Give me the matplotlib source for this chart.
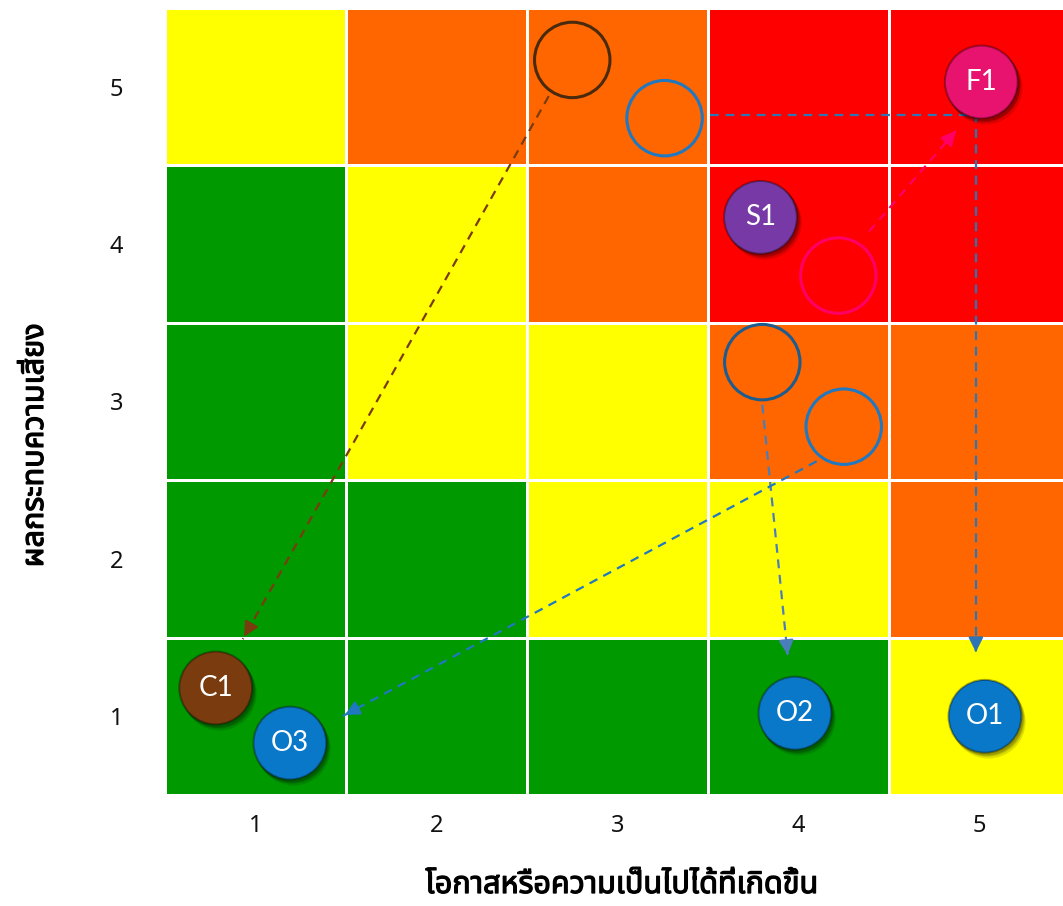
import numpy as np
import matplotlib
matplotlib.use('Agg')
import matplotlib.pyplot as plt
import matplotlib.patheffects as pe
from matplotlib import font_manager as fm
from matplotlib.ft2font import FT2Font
from matplotlib.colors import ListedColormap

# risk matrix: rows = impact 1..5 (bottom to top), cols = likelihood 1..5
levels = np.array([
    [0, 0, 0, 0, 1],
    [0, 0, 1, 1, 2],
    [0, 1, 1, 2, 2],
    [0, 1, 2, 3, 3],
    [1, 2, 2, 3, 3],
])
level_colors = ['#009900', '#FFFF00', '#FF6600', '#FF0000']
tick_labels = ['1', '2', '3', '4', '5']

# filled markers (current risk position)
ball_names = ['F1', 'S1', 'C1', 'O3', 'O2', 'O1']
ball_x = [5.01, 3.79, 0.78, 1.19, 3.98, 5.03]
ball_y = [5.03, 4.17, 1.18, 0.83, 1.02, 1.00]
ball_colors = ['#E8126F', '#7639A6', '#7A3C0E', '#0A78C8', '#0A78C8', '#0A78C8']

# empty rings (earlier position)
ring_x = [2.75, 3.26, 4.22, 3.80, 4.25]
ring_y = [5.17, 4.80, 3.80, 3.25, 2.84]
ring_colors = ['#4A2A0C', '#1F78C0', '#FF0066', '#1D5C8E', '#1F78C0']

# movement arrows: start, end
arrow_start = [(2.62, 4.94), (4.39, 4.08), (3.80, 2.98), (4.10, 2.62)]
arrow_end = [(0.93, 1.49), (4.87, 4.72), (3.94, 1.39), (1.48, 1.00)]
arrow_colors = ['#7A3C0E', '#FF0066', '#4A7EBB', '#1F78C0']
# elbow arrow
elbow_pts = [(3.51, 4.82), (4.98, 4.82), (4.98, 1.39)]
elbow_color = '#2E75B6'

xlabel = 'โอกาสหรือความเป็นไปได้ที่เกิดขึ้น'
ylabel = 'ผลกระทบความเสี่ยง'


def find_thai_font():
    prefer = ['Noto Sans Thai', 'Noto Sans Thai UI', 'Loma', 'Garuda', 'Tlwg Typo', 'Umpush', 'Sarabun']
    names = {f.name for f in fm.fontManager.ttflist}
    for p in prefer:
        if p in names:
            return p
    for f in fm.fontManager.ttflist:
        try:
            if ord('ก') in FT2Font(f.fname).get_charmap():
                return f.name
        except Exception:
            pass
    return 'DejaVu Sans'


thai = find_thai_font()
plt.rcParams['font.family'] = [thai, 'DejaVu Sans']

fig = plt.figure(figsize=(10.63, 9.06), dpi=100)
ax = fig.add_axes([165 / 1063, 1 - 795 / 906, 1 - 165 / 1063, 787 / 906])

xe = np.arange(0.5, 6.0, 1.0)
ax.pcolormesh(xe, xe, levels, cmap=ListedColormap(level_colors), vmin=-0.5, vmax=3.5,
              edgecolor='white', linewidth=2)
ax.set_xlim(0.5, 0.5 + 898 / 181)
ax.set_ylim(0.5, 5.5)

for s in ax.spines.values():
    s.set_visible(False)
ax.set_xticks(range(1, 6))
ax.set_yticks(range(1, 6))
ax.set_xticklabels(tick_labels, fontsize=17, color='#111111')
ax.set_yticklabels(tick_labels, fontsize=17, color='#111111')
ax.tick_params(axis='x', length=0, pad=14)
ax.tick_params(axis='y', length=0, pad=30)

# arrows
for (x0, y0), (x1, y1), c in zip(arrow_start, arrow_end, arrow_colors):
    ax.plot([x0, x1], [y0, y1], ls=(0, (4, 3)), color=c, lw=1.6, zorder=3)
    ax.annotate('', xy=(x1, y1), xytext=(x1 - (x1 - x0) * 0.02, y1 - (y1 - y0) * 0.02),
                arrowprops=dict(arrowstyle='-|>', color=c, lw=1.6, mutation_scale=22), zorder=3)
ex, ey = zip(*elbow_pts)
ax.plot(ex, ey, ls=(0, (4, 3)), color=elbow_color, lw=1.6, zorder=3)
ax.annotate('', xy=elbow_pts[-1], xytext=(ex[-1], ey[-1] + 0.05),
            arrowprops=dict(arrowstyle='-|>', color=elbow_color, lw=1.6, mutation_scale=22), zorder=3)

# rings
ax.scatter(ring_x, ring_y, s=2950, facecolors='none', edgecolors=ring_colors, linewidths=2.2, zorder=4)

# balls with a soft shadow
bx = np.array(ball_x)
by = np.array(ball_y)
for k, a in [(0.03, 0.12), (0.02, 0.15), (0.012, 0.18)]:
    ax.scatter(bx + k * 0.6, by - k, s=2850, color='black', alpha=a, linewidths=0, zorder=5)
ax.scatter(bx, by, s=2750, c=ball_colors, edgecolors='#00000055', linewidths=1.5, zorder=6)
for n, x, y in zip(ball_names, ball_x, ball_y):
    ax.text(x, y, n, ha='center', va='center', color='white', fontsize=20,
            family=['Lato', 'DejaVu Sans'], zorder=8)

bold = [pe.withStroke(linewidth=0.9, foreground='black')]
fig.text(622 / 1063, 1 - 885 / 906, xlabel, ha='center', va='center', fontsize=22, path_effects=bold)
fig.text(35 / 1063, 1 - 445 / 906, ylabel, ha='center', va='center', fontsize=22, path_effects=bold,
         rotation=90)

fig.savefig('out.png', dpi=100)
